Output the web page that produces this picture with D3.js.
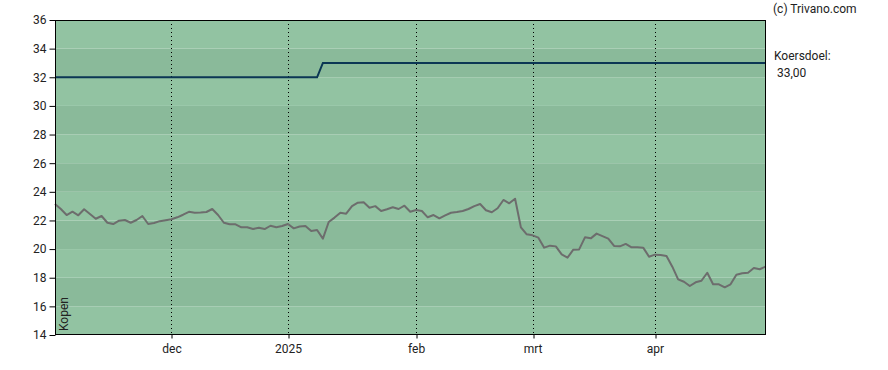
<!DOCTYPE html>
<html lang="nl">
<head>
    <meta charset="UTF-8">
    <title>Koersverloop</title>
    <script src="https://d3js.org/d3.v7.min.js"></script>
    <style>
        html, body {
            margin: 0;
            padding: 0;
            background-color: #ffffff;
            font-family: 'Roboto', sans-serif;
        }
        text {
            font-family: 'Roboto', sans-serif;
            fill: #222;
        }
    </style>
</head>
<body>
    <div id="chart"></div>
    <script>
        // slotkoersen per handelsdag (index 0 = begin november)
        const prices = [
            23.15, 22.8, 22.38, 22.61, 22.36, 22.78, 22.45, 22.12, 22.31, 21.84,
            21.75, 21.98, 22.03, 21.84, 22.03, 22.31, 21.75, 21.82, 21.95, 22.02,
            22.08, 22.22, 22.4, 22.6, 22.54, 22.56, 22.59, 22.8, 22.38, 21.84,
            21.73, 21.73, 21.52, 21.52, 21.4, 21.49, 21.4, 21.63, 21.52, 21.61,
            21.75, 21.45, 21.58, 21.61, 21.26, 21.33, 20.73, 21.89, 22.2, 22.54,
            22.47, 23.0, 23.24, 23.27, 22.89, 23.0, 22.66, 22.78, 22.92, 22.8,
            23.03, 22.61, 22.73, 22.66, 22.22, 22.38, 22.15, 22.36, 22.54, 22.59,
            22.66, 22.8, 23.0, 23.15, 22.71, 22.57, 22.85, 23.43, 23.2, 23.52,
            21.52, 21.03, 20.96, 20.8, 20.1, 20.24, 20.19, 19.63, 19.4, 19.96,
            19.98, 20.82, 20.75, 21.08, 20.91, 20.73, 20.22, 20.19, 20.36, 20.12,
            20.12, 20.1, 19.47, 19.61, 19.59, 19.52, 18.77, 17.89, 17.72, 17.42,
            17.68, 17.79, 18.35, 17.54, 17.54, 17.33, 17.54, 18.21, 18.31, 18.35,
            18.68, 18.59, 18.77
        ];

        // koersdoel: 32 tot half januari, daarna 33
        const targetChangeIndex = 46;
        const targetBefore = 32;
        const targetAfter = 33;

        const monthTicks = [20, 40, 62, 82, 103];
        const monthLabels = ["dec", "2025", "feb", "mrt", "apr"];

        const yTicks = [14, 16, 18, 20, 22, 24, 26, 28, 30, 32, 34, 36];
        const bandEdges = [14, 16, 18, 20, 22, 24, 26, 28, 30, 32, 34];

        const targetText = "33,00";

        const W = 888, H = 370;
        const plot = {left: 55, right: 766, top: 20, bottom: 335};

        const svg = d3.select("#chart")
            .append("svg")
            .attr("width", W)
            .attr("height", H);

        const x = d3.scaleLinear()
            .domain([0, prices.length - 1])
            .range([plot.left, plot.right - 0.5]);

        const y = d3.scaleLinear()
            .domain([14, 36])
            .range([plot.bottom, plot.top]);

        // BANDEN
        svg.append("g")
            .selectAll("rect")
            .data(bandEdges)
            .enter()
            .append("rect")
            .attr("x", plot.left)
            .attr("width", plot.right - plot.left)
            .attr("y", d => y(d + 2))
            .attr("height", d => y(d) - y(d + 2))
            .attr("fill", (d, i) => i % 2 === 0 ? "#92c3a2" : "#8aba9a");

        // VERTICALE GRIDLIJNEN
        svg.append("g")
            .selectAll("line")
            .data(monthTicks)
            .enter()
            .append("line")
            .attr("x1", d => Math.round(x(d)) + 0.5)
            .attr("x2", d => Math.round(x(d)) + 0.5)
            .attr("y1", plot.top)
            .attr("y2", plot.bottom)
            .attr("stroke", "#000")
            .attr("stroke-width", 1)
            .attr("stroke-dasharray", "1,3");

        // KOERSDOEL
        const target = prices.map((p, i) => i < targetChangeIndex ? targetBefore : targetAfter);
        svg.append("path")
            .datum(target)
            .attr("d", d3.line().x((d, i) => x(i)).y(d => y(d)))
            .attr("fill", "none")
            .attr("stroke", "#0b3654")
            .attr("stroke-width", 2);

        // KOERS
        svg.append("path")
            .datum(prices)
            .attr("d", d3.line().x((d, i) => x(i)).y(d => y(d)))
            .attr("fill", "none")
            .attr("stroke", "#6d6d6d")
            .attr("stroke-width", 2)
            .attr("stroke-linejoin", "round");

        // RAND
        svg.append("rect")
            .attr("x", plot.left + 0.5)
            .attr("y", plot.top + 0.5)
            .attr("width", plot.right - plot.left - 1)
            .attr("height", plot.bottom - plot.top - 1)
            .attr("fill", "none")
            .attr("stroke", "#000")
            .attr("stroke-width", 1);

        // Y-AS
        const yAxis = d3.axisLeft(y)
            .tickValues(yTicks)
            .tickSize(6)
            .tickPadding(3)
            .tickFormat(d3.format("d"));

        svg.append("g")
            .attr("transform", `translate(${plot.left + 0.5},0)`)
            .call(yAxis)
            .call(g => g.select(".domain").remove())
            .call(g => g.selectAll("text").style("font-size", "12px").attr("fill", "#222"));

        // X-AS
        const xAxis = d3.axisBottom(x)
            .tickValues(monthTicks)
            .tickSize(4)
            .tickPadding(6)
            .tickFormat((d, i) => monthLabels[i]);

        svg.append("g")
            .attr("transform", `translate(0,${plot.bottom - 0.5})`)
            .call(xAxis)
            .call(g => g.select(".domain").remove())
            .call(g => g.selectAll(".tick line").attr("transform", d => `translate(${Math.round(x(d)) + 0.5 - x(d)},0)`))
            .call(g => g.selectAll("text").style("font-size", "12px").attr("fill", "#222"));

        // KOPEN
        svg.append("text")
            .attr("transform", `translate(${plot.left + 13},${plot.bottom - 4}) rotate(-90)`)
            .style("font-size", "12px")
            .text("Kopen");

        // TEKSTEN RECHTS
        svg.append("text")
            .attr("x", 773)
            .attr("y", 13)
            .style("font-size", "12px")
            .text("(c) Trivano.com");

        svg.append("text")
            .attr("x", 774)
            .attr("y", 60)
            .style("font-size", "12px")
            .text("Koersdoel:");

        svg.append("text")
            .attr("x", 777)
            .attr("y", 77)
            .style("font-size", "12px")
            .text(targetText);
    </script>
</body>
</html>
